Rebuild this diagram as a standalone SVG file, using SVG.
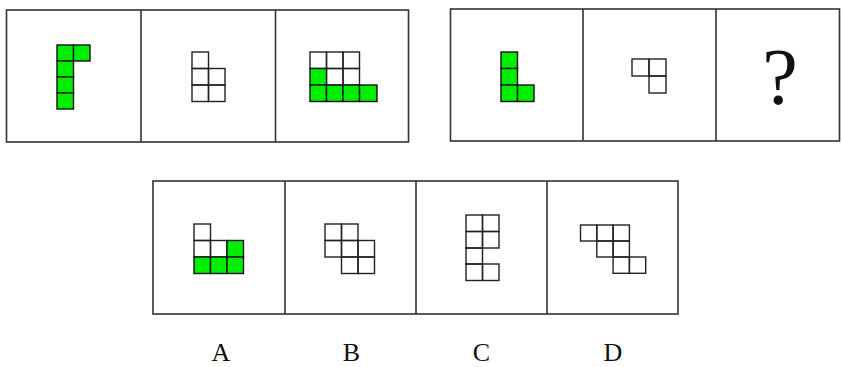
<svg xmlns="http://www.w3.org/2000/svg" width="842" height="367" viewBox="0 0 842 367">
<style>
.frame{fill:none;stroke:#333;stroke-width:1.6}
.g{fill:#00ee00;stroke:#111;stroke-width:1.4}
.w{fill:none;stroke:#222;stroke-width:1.4}
.lbl{font-family:"Liberation Serif",serif;font-size:26px;fill:#111;text-anchor:middle}
</style>
<rect width="842" height="367" fill="#fff"/>
<g id="frames">
<rect class="frame" x="6.5" y="10" width="402" height="132"/>
<line class="frame" x1="141" y1="10" x2="141" y2="142"/>
<line class="frame" x1="275.5" y1="10" x2="275.5" y2="142"/>
<rect class="frame" x="450.5" y="9" width="389" height="132"/>
<line class="frame" x1="583" y1="9" x2="583" y2="141"/>
<line class="frame" x1="716" y1="9" x2="716" y2="141"/>
<rect class="frame" x="153" y="181" width="525" height="133"/>
<line class="frame" x1="285" y1="181" x2="285" y2="314"/>
<line class="frame" x1="416" y1="181" x2="416" y2="314"/>
<line class="frame" x1="547" y1="181" x2="547" y2="314"/>
</g>
<g id="fig1">
<rect class="g" x="57" y="45" width="16.5" height="16"/>
<rect class="g" x="73.5" y="45" width="16.5" height="16"/>
<rect class="g" x="57" y="61" width="16.5" height="16"/>
<rect class="g" x="57" y="77" width="16.5" height="16"/>
<rect class="g" x="57" y="93" width="16.5" height="16"/>
</g>
<g id="fig2">
<rect class="w" x="192" y="52" width="16.5" height="16.5"/>
<rect class="w" x="192" y="68.5" width="16.5" height="16.5"/>
<rect class="w" x="192" y="85" width="16.5" height="16.5"/>
<rect class="w" x="208.5" y="68.5" width="16.5" height="16.5"/>
<rect class="w" x="208.5" y="85" width="16.5" height="16.5"/>
</g>
<g id="fig3">
<rect class="w" x="310" y="52" width="16.5" height="16.5"/>
<rect class="w" x="326.5" y="52" width="16.5" height="16.5"/>
<rect class="w" x="343" y="52" width="16.5" height="16.5"/>
<rect class="w" x="326.5" y="68.5" width="16.5" height="16.5"/>
<rect class="w" x="343" y="68.5" width="16.5" height="16.5"/>
<rect class="g" x="310" y="68.5" width="16.5" height="16.5"/>
<rect class="g" x="310" y="85" width="16.5" height="16.5"/>
<rect class="g" x="326.5" y="85" width="16.5" height="16.5"/>
<rect class="g" x="343" y="85" width="16.5" height="16.5"/>
<rect class="g" x="359.5" y="85" width="17.5" height="16.5"/>
</g>
<g id="fig4">
<rect class="g" x="501" y="52" width="16.5" height="16.5"/>
<rect class="g" x="501" y="68.5" width="16.5" height="16.5"/>
<rect class="g" x="501" y="85" width="16.5" height="16.5"/>
<rect class="g" x="517.5" y="85" width="16.5" height="16.5"/>
</g>
<g id="fig5">
<rect class="w" x="632" y="59" width="17" height="17"/>
<rect class="w" x="649" y="59" width="17" height="17"/>
<rect class="w" x="649" y="76" width="17" height="17"/>
</g>
<g id="fig6">
<text x="780" y="104" style="font-family:'Liberation Serif',serif;font-size:80px;fill:#111;text-anchor:middle">?</text>
</g>
<g id="optA">
<rect class="w" x="194" y="224" width="16.5" height="16.5"/>
<rect class="w" x="194" y="240.5" width="16.5" height="16.5"/>
<rect class="w" x="210.5" y="240.5" width="16.5" height="16.5"/>
<rect class="g" x="227" y="240.5" width="16.5" height="16.5"/>
<rect class="g" x="194" y="257" width="16.5" height="16.5"/>
<rect class="g" x="210.5" y="257" width="16.5" height="16.5"/>
<rect class="g" x="227" y="257" width="16.5" height="16.5"/>
</g>
<g id="optB">
<rect class="w" x="325" y="224" width="16.5" height="16.5"/>
<rect class="w" x="341.5" y="224" width="16.5" height="16.5"/>
<rect class="w" x="325" y="240.5" width="16.5" height="16.5"/>
<rect class="w" x="341.5" y="240.5" width="16.5" height="16.5"/>
<rect class="w" x="358" y="240.5" width="16.5" height="16.5"/>
<rect class="w" x="341.5" y="257" width="16.5" height="16.5"/>
<rect class="w" x="358" y="257" width="16.5" height="16.5"/>
</g>
<g id="optC">
<rect class="w" x="466" y="215" width="16.5" height="16.5"/>
<rect class="w" x="482.5" y="215" width="16.5" height="16.5"/>
<rect class="w" x="466" y="231.5" width="16.5" height="16.5"/>
<rect class="w" x="482.5" y="231.5" width="16.5" height="16.5"/>
<rect class="w" x="466" y="248" width="16.5" height="16"/>
<rect class="w" x="466" y="264" width="16.5" height="16.5"/>
<rect class="w" x="482.5" y="264" width="16.5" height="16.5"/>
</g>
<g id="optD">
<rect class="w" x="580.5" y="225" width="16.3" height="16"/>
<rect class="w" x="596.8" y="225" width="16.3" height="16"/>
<rect class="w" x="613.1" y="225" width="16.3" height="16"/>
<rect class="w" x="596.8" y="241" width="16.3" height="16"/>
<rect class="w" x="613.1" y="241" width="16.3" height="16"/>
<rect class="w" x="613.1" y="257" width="16.3" height="16.3"/>
<rect class="w" x="629.4" y="257" width="16.3" height="16.3"/>
</g>
<g id="labels">
<text class="lbl" x="221" y="361">A</text>
<text class="lbl" x="351.5" y="361">B</text>
<text class="lbl" x="481.5" y="361">C</text>
<text class="lbl" x="613" y="361">D</text>
</g>
</svg>
